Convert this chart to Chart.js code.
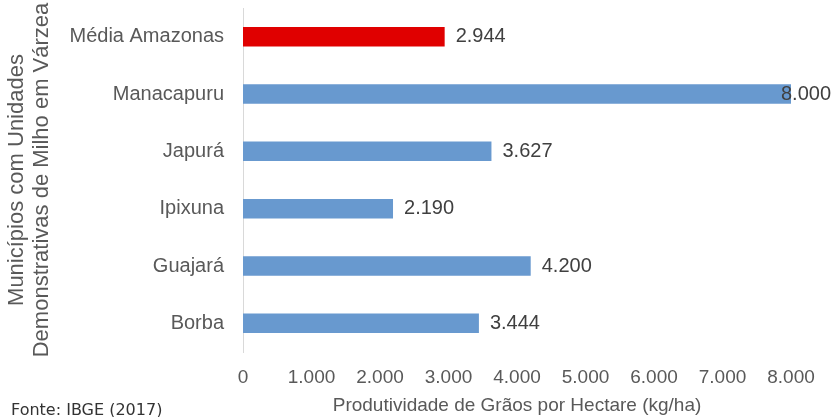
<!DOCTYPE html>
<html>
<head>
<meta charset="utf-8">
<script src="https://cdn.jsdelivr.net/npm/chart.js@4/dist/chart.umd.min.js"></script>
<style>
  html, body { margin: 0; padding: 0; background: #fff; }
  #wrap { width: 837px; height: 417px; }
</style>
</head>
<body>
<div id="wrap"><canvas id="chart" width="837" height="417"></canvas></div>
<script>
const municipios = ['Média Amazonas', 'Manacapuru', 'Japurá', 'Ipixuna', 'Guajará', 'Borba'];
const produtividade = [2944, 8000, 3627, 2190, 4200, 3444];
const coresBarras = ['#E00000', '#6899CF', '#6899CF', '#6899CF', '#6899CF', '#6899CF'];
const ticksX = [0, 1000, 2000, 3000, 4000, 5000, 6000, 7000, 8000];
const fonte = 'Fonte: IBGE (2017)';

const fmt = v => String(v).replace(/\B(?=(\d{3})+(?!\d))/g, '.');
const FAMILY = '"Liberation Sans", Arial, sans-serif';

const rotulos = {
    id: 'rotulos',
    afterDatasetsDraw(chart) {
        const ctx = chart.ctx;
        const meta = chart.getDatasetMeta(0);
        ctx.save();
        ctx.font = '20px ' + FAMILY;
        ctx.fillStyle = '#404040';
        ctx.textBaseline = 'middle';
        meta.data.forEach((bar, i) => {
            const txt = fmt(produtividade[i]);
            const w = ctx.measureText(txt).width;
            let x = bar.x + 11;
            if (x + w > chart.width) x = bar.x - 10;
            ctx.fillText(txt, x, bar.y);
        });
        ctx.font = '16px "DejaVu Sans", Verdana, sans-serif';
        ctx.fillStyle = '#333333';
        ctx.textBaseline = 'alphabetic';
        ctx.fillText(fonte, 11, 415);
        ctx.restore();
    }
};

new Chart(document.getElementById('chart'), {
    type: 'bar',
    data: {
        labels: municipios,
        datasets: [{
            data: produtividade,
            backgroundColor: coresBarras,
            borderWidth: 0,
            barPercentage: 0.34,
            categoryPercentage: 1
        }]
    },
    options: {
        indexAxis: 'y',
        responsive: false,
        animation: false,
        layout: { padding: { top: 8, right: 46, left: 0, bottom: 0 } },
        plugins: {
            legend: { display: false },
            tooltip: { enabled: false }
        },
        scales: {
            x: {
                min: 0,
                max: 8000,
                afterBuildTicks: s => { s.ticks = ticksX.map(v => ({ value: v })); },
                afterFit: s => {
                    s.height = 65;
                    s.paddingLeft = 0; s.paddingRight = 0;
                    s.paddingTop = 0; s.paddingBottom = 0;
                },
                grid: { display: false, drawTicks: false },
                border: { display: false },
                ticks: {
                    padding: 14,
                    color: '#595959',
                    font: { family: FAMILY, size: 19 },
                    callback: v => fmt(v)
                },
                title: {
                    display: true,
                    text: 'Produtividade de Grãos por Hectare (kg/ha)',
                    color: '#595959',
                    font: { family: FAMILY, size: 19 },
                    padding: { top: 3, bottom: 0 }
                }
            },
            y: {
                afterFit: s => {
                    s.width = 243;
                    s.paddingTop = 0; s.paddingBottom = 0;
                    s.paddingLeft = 0; s.paddingRight = 0;
                },
                grid: { display: false, drawTicks: false },
                border: { display: true, color: '#D9D9D9', width: 1 },
                ticks: {
                    padding: 19,
                    color: '#595959',
                    font: { family: FAMILY, size: 20 }
                },
                title: {
                    display: true,
                    text: ['Municípios com Unidades', 'Demonstrativas de Milho em Várzea'],
                    color: '#595959',
                    font: { family: FAMILY, size: 22, lineHeight: 1.15 },
                    padding: { top: 4, bottom: 0 }
                }
            }
        }
    },
    plugins: [rotulos]
});
</script>
</body>
</html>
